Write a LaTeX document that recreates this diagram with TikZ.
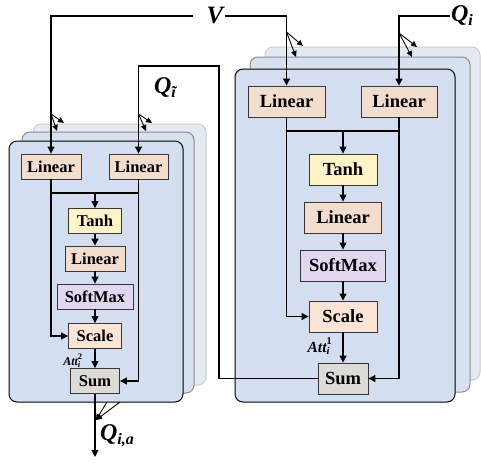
\documentclass[tikz,border=0pt]{standalone}
\usepackage{fontspec}
\setmainfont{Liberation Serif}
\usetikzlibrary{arrows.meta}
\definecolor{cardfront}{RGB}{211,222,240}
\definecolor{cardmid}{RGB}{216,225,240}
\definecolor{cardback}{RGB}{228,233,242}
\definecolor{linfill}{RGB}{242,221,206}
\definecolor{tanhfill}{RGB}{255,243,200}
\definecolor{softfill}{RGB}{226,214,240}
\definecolor{scalefill}{RGB}{252,229,215}
\definecolor{sumfill}{RGB}{221,219,216}
\definecolor{boxline}{RGB}{55,55,55}
\newcommand\attlabel[4]{$\hbox{\fontsize{#1}{#1}\selectfont\bfseries\itshape Att}^{\hbox{\fontsize{#2}{#2}\selectfont\bfseries #3}}_{\hbox{\fontsize{#2}{#2}\selectfont\bfseries\itshape #4}}$}
\begin{document}
\begin{tikzpicture}[x=1pt,y=-1pt,
  line width=1.1pt,
  arr/.style={-{Triangle[length=7pt,width=7pt]}},
  farr/.style={-{Triangle[length=6pt,width=5.5pt]}, line width=0.9pt},
  cardbox/.style={rounded corners=8pt, inner sep=0pt, line width=1pt},
  blk/.style={draw=boxline, line width=0.9pt, inner sep=0pt, font=\bfseries},
  rb/.style={blk, minimum height=31pt, font=\fontsize{18.5}{18.5}\selectfont\bfseries},
  lb/.style={blk, minimum height=25pt, font=\fontsize{16.5}{16.5}\selectfont\bfseries},
  lab/.style={inner sep=1pt, font=\bfseries\itshape}
]
\useasboundingbox (0,0) rectangle (481,463);

% right cards
\node[cardbox, draw=black!20, fill=cardback, minimum width=215pt, minimum height=333pt] (rcard3) at (372.5,213.5) {};
\node[cardbox, draw=black!45, fill=cardmid, minimum width=220pt, minimum height=335pt] (rcard2) at (360,224.5) {};
\node[cardbox, draw=black, fill=cardfront, minimum width=220pt, minimum height=333pt] (rcard1) at (345,235.5) {};
% left cards
\node[cardbox, draw=black!20, fill=cardback, minimum width=173pt, minimum height=261pt] (lcard3) at (119.5,254.5) {};
\node[cardbox, draw=black!45, fill=cardmid, minimum width=172pt, minimum height=261pt] (lcard2) at (108,262.5) {};
\node[cardbox, draw=black, fill=cardfront, minimum width=174pt, minimum height=261pt] (lcard1) at (96,271.5) {};

% right blocks
\node[rb, fill=linfill, minimum width=77pt] (rL1) at (286.5,101.5) {Linear};
\node[rb, fill=linfill, minimum width=76pt] (rL2) at (399,101.5) {Linear};
\node[rb, fill=tanhfill, minimum width=68pt] (rT) at (343,169.5) {Tanh};
\node[rb, fill=linfill, minimum width=77pt] (rLin) at (343,217.5) {Linear};
\node[rb, fill=softfill, minimum width=85pt] (rS) at (343,265.5) {SoftMax};
\node[rb, fill=scalefill, minimum width=68pt] (rSc) at (343,316.5) {Scale};
\node[rb, fill=sumfill, minimum width=50pt] (rSum) at (343,378.5) {Sum};

% left blocks
\node[lb, fill=linfill, minimum width=60pt] (lL1) at (51,166.5) {Linear};
\node[lb, fill=linfill, minimum width=59pt] (lL2) at (138.5,166.5) {Linear};
\node[lb, fill=tanhfill, minimum width=53pt] (lT) at (95,221) {Tanh};
\node[lb, fill=linfill, minimum width=60pt] (lLin) at (95,258.5) {Linear};
\node[lb, fill=softfill, minimum width=76pt] (lS) at (95,296.5) {SoftMax};
\node[lb, fill=scalefill, minimum width=53pt] (lSc) at (95,336) {Scale};
\node[lb, fill=sumfill, minimum width=49pt] (lSum) at (95,381) {Sum};

% labels
\node[lab, font=\fontsize{25}{25}\selectfont\bfseries\itshape] (V) at (215,16) {V};
\node[lab, font=\fontsize{24}{24}\selectfont\bfseries\itshape] (Qi) at (462,16) {Q\raisebox{-4pt}{\fontsize{16}{16}\selectfont i}};
\node[lab, font=\fontsize{24}{24}\selectfont\bfseries\itshape] (Qt) at (165,88) {Q\raisebox{-4pt}{\fontsize{16}{16}\selectfont ĩ}};
\node[lab, font=\fontsize{24}{24}\selectfont\bfseries\itshape] (Qia) at (117,436) {Q\raisebox{-4pt}{\fontsize{16}{16}\selectfont i,a}};
\node[inner sep=0pt] (att1) at (320,346) {\attlabel{15.5}{10.5}{1}{i}};
\node[inner sep=0pt] (att2) at (73,361) {\attlabel{12}{8.5}{2}{i}};

% coordinates
\coordinate (vleft) at (193,16);
\coordinate (rjoin) at (343,131);
\coordinate (ljoin) at (95,193);
\coordinate (bend) at (219,66);
\coordinate (qout) at (95,457);
% fan coordinates
\coordinate (fa1) at (286.5,32); \coordinate (fa1a) at (303,46); \coordinate (fa1b) at (296,57);
\coordinate (fa2) at (399,33); \coordinate (fa2a) at (417,47); \coordinate (fa2b) at (412,57);
\coordinate (fa3) at (51,114); \coordinate (fa3a) at (64,123); \coordinate (fa3b) at (57,131);
\coordinate (fa4) at (138.5,114); \coordinate (fa4a) at (152,123); \coordinate (fa4b) at (146,131);
\coordinate (fo1) at (107,402); \coordinate (fo2) at (120,402); \coordinate (fot) at (96,420);

% inputs
\draw[arr] (V.east) -| (rL1.north);
\draw[arr] (vleft) -| (lL1.north);
\draw[arr] (Qi.west) -| (rL2.north);
\draw[arr] (rSum.west) -| (bend) -| (lL2.north);

% right internal
\draw (rL1.south) |- (rjoin) -| (rL2.south);
\draw[arr] (rjoin) -- (rT);
\draw[arr] (rT) -- (rLin);
\draw[arr] (rLin) -- (rS);
\draw[arr] (rS) -- (rSc);
\draw[arr] (rSc) -- (rSum);
\draw[arr] (rL1.south) |- (rSc.west);
\draw[arr] (rL2.south) |- (rSum.east);

% left internal
\draw (lL1.south) |- (ljoin) -| (lL2.south);
\draw[arr] (ljoin) -- (lT);
\draw[arr] (lT) -- (lLin);
\draw[arr] (lLin) -- (lS);
\draw[arr] (lS) -- (lSc);
\draw[arr] (lSc) -- (lSum);
\draw[arr] (lL1.south) |- (lSc.west);
\draw[arr] (lL2.south) |- (lSum.east);

% output
\draw[arr] (lSum.south) -- (qout);

% fans
\draw[farr] (fa1) -- (fa1a);
\draw[farr] (fa1) -- (fa1b);
\draw[farr] (fa2) -- (fa2a);
\draw[farr] (fa2) -- (fa2b);
\draw[farr] (fa3) -- (fa3a);
\draw[farr] (fa3) -- (fa3b);
\draw[farr] (fa4) -- (fa4a);
\draw[farr] (fa4) -- (fa4b);
\draw[farr] (fo1) -- (fot);
\draw[farr] (fo2) -- (fot);
\end{tikzpicture}
\end{document}
